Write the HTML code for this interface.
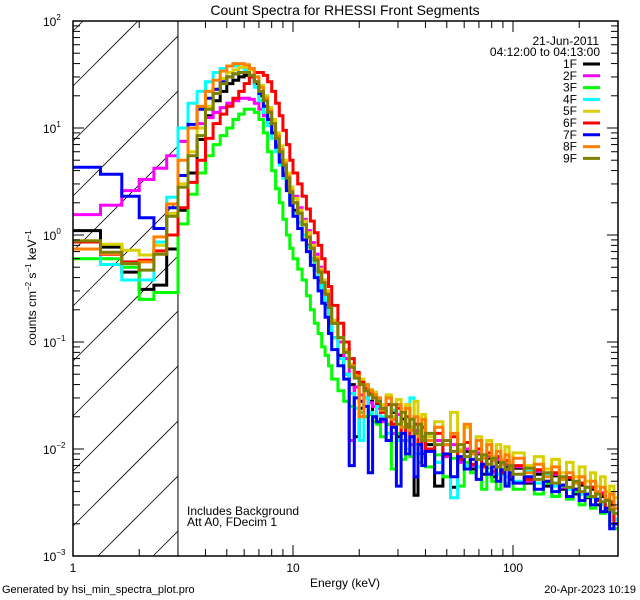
<!DOCTYPE html>
<html><head><meta charset="utf-8"><style>
html,body{margin:0;padding:0;background:#fff;width:640px;height:600px;overflow:hidden;}
svg{display:block;font-family:"Liberation Sans",sans-serif;}
</style></head><body>
<svg id="chart" width="640" height="600" viewBox="0 0 640 600" xmlns="http://www.w3.org/2000/svg">
<rect width="640" height="600" fill="#fff"/>
<text x="345" y="15" font-size="14" text-anchor="middle">Count Spectra for RHESSI Front Segments</text>
<defs><clipPath id="plotclip"><rect x="73" y="21" width="545" height="535"/></clipPath></defs>
<g id="hatch"></g>
<g id="series" clip-path="url(#plotclip)"></g>
<g id="axes"></g>
<g id="legend"></g>
<text x="187" y="515" font-size="12">Includes Background</text>
<text x="187" y="526" font-size="12">Att A0, FDecim 1</text>
<text x="345" y="587" font-size="12" text-anchor="middle">Energy (keV)</text>
<text transform="translate(36,288) rotate(-90)" font-size="12" text-anchor="middle">counts cm<tspan font-size="8" dy="-5">−2</tspan><tspan dy="5"> s</tspan><tspan font-size="8" dy="-5">−1</tspan><tspan dy="5"> keV</tspan><tspan font-size="8" dy="-5">−1</tspan></text>
<text x="2" y="593" font-size="11">Generated by hsi_min_spectra_plot.pro</text>
<text x="636" y="593" font-size="11" text-anchor="end">20-Apr-2023 10:19</text>
</svg>
<script>
const edges=[1,1.333,1.667,2,2.333,2.667,3,3.333,3.667,4,4.333,4.667,5,5.333,5.667,6,6.333,6.667,7,7.333,7.667,8,8.333,8.667,9,9.333,9.667,10,10.5,11,11.5,12,12.5,13,13.5,14,14.5,15,16,17,18,19,20,21,22,23,24,25,26.5,28,29.5,31,32.5,34,35.5,37,38.5,40,44,48,52,56,60,64,68,72,76,80,84,88,92,96,100,112.5,125,137.5,150,162.5,175,187.5,200,212.5,225,237.5,250,262.5,275,287.5,300];
const segNames=["1F","2F","3F","4F","5F","6F","7F","8F","9F"];
const segColors=["#000000","#ff00ff","#00ff00","#00ffff","#d8d000","#ff0000","#0000ff","#ff8000","#808000"];
const s1F=[1.1,0.77,0.45,0.31,0.34,0.74,1.7,3.8,7.8,13,18,22,26,28,30,31,30,26,20,16,12,9,7,5,3.8,2.8,2.1,1.7,1.3,1.0,0.8,0.6,0.47,0.37,0.29,0.22,0.16,0.11,0.075,0.05,0.04,0.013,0.024,0.03,0.028,0.02,0.026,0.024,0.017,0.022,0.013,0.019,0.012,0.016,0.0037,0.014,0.009,0.011,0.0045,0.012,0.0044,0.008,0.0095,0.0065,0.009,0.0058,0.0082,0.0055,0.0075,0.0062,0.0068,0.0052,0.0066,0.0048,0.0058,0.0045,0.0056,0.0042,0.0052,0.0038,0.0046,0.0035,0.0042,0.003,0.0036,0.0026,0.003,0.0022];
const s2F=[1.55,1.9,2.6,3.3,4.2,5.5,7.5,10,11,12.5,14,15.5,17,18,19,19,18.5,17,15,13,11,9,7.3,5.7,4.5,3.6,2.8,2.3,1.8,1.4,1.1,0.85,0.66,0.5,0.38,0.3,0.22,0.15,0.1,0.07,0.012,0.038,0.032,0.03,0.027,0.025,0.024,0.018,0.026,0.014,0.021,0.012,0.017,0.011,0.015,0.009,0.013,0.0095,0.012,0.0085,0.011,0.0075,0.01,0.007,0.0092,0.0068,0.0085,0.006,0.008,0.0062,0.0072,0.0058,0.0068,0.005,0.0062,0.0048,0.0058,0.0044,0.0054,0.004,0.0048,0.0037,0.0044,0.0033,0.0039,0.0028,0.0032,0.0022];
const s3F=[0.6,0.6,0.5,0.25,0.29,0.29,1.27,2.4,3.8,5.5,7,8.5,10,12,13.5,15,15,14,12,9,6,4,2.7,2,1.4,1.0,0.75,0.6,0.48,0.38,0.27,0.2,0.15,0.12,0.09,0.075,0.06,0.045,0.035,0.028,0.025,0.024,0.022,0.02,0.021,0.018,0.017,0.013,0.017,0.0065,0.014,0.008,0.012,0.0085,0.011,0.0075,0.0095,0.0068,0.0088,0.0055,0.0082,0.0045,0.0075,0.006,0.0068,0.0042,0.0066,0.005,0.0042,0.0058,0.0048,0.0055,0.0042,0.0052,0.0038,0.0048,0.0036,0.0045,0.0034,0.004,0.003,0.0036,0.0028,0.0033,0.0025,0.0028,0.002,0.0018];
const s4F=[0.74,0.53,0.38,0.38,0.86,2.25,10,17,22,27,33,36,38,38,37,35,30,24,18,14,10.5,8,6,4.5,3.4,2.6,2.0,1.6,1.3,1.0,0.78,0.6,0.47,0.36,0.28,0.21,0.16,0.11,0.07,0.05,0.033,0.024,0.012,0.03,0.022,0.02,0.025,0.02,0.014,0.023,0.012,0.018,0.01,0.03,0.009,0.015,0.0085,0.013,0.0075,0.011,0.0035,0.01,0.007,0.0095,0.0068,0.0088,0.006,0.0082,0.0058,0.0076,0.0055,0.0068,0.005,0.0062,0.0048,0.0058,0.0045,0.0052,0.0042,0.0048,0.0038,0.0044,0.0035,0.004,0.003,0.0034,0.0026,0.0022];
const s5F=[0.88,0.82,0.72,0.65,0.8,1.6,3,6,10,16,23,29,33,35,37,37,35,30,25,20,15.5,12,9,6.8,5,3.8,2.8,2.2,1.7,1.35,1.05,0.8,0.62,0.48,0.38,0.3,0.22,0.16,0.11,0.085,0.062,0.05,0.045,0.04,0.036,0.034,0.03,0.026,0.032,0.02,0.029,0.018,0.026,0.016,0.028,0.014,0.021,0.013,0.018,0.012,0.022,0.01,0.016,0.0095,0.013,0.0088,0.012,0.0085,0.011,0.008,0.0105,0.0075,0.0092,0.007,0.0085,0.0065,0.008,0.006,0.0075,0.0055,0.0068,0.005,0.006,0.0045,0.0055,0.004,0.0045,0.0035];
const s6F=[0.86,0.66,0.56,0.58,0.71,1.0,1.8,3.1,5,8,11,13.5,16,19,22,26,30,33,33,31,27,22,17,13,9.5,7,5,3.8,3.0,2.3,1.75,1.35,1.05,0.8,0.6,0.45,0.33,0.22,0.15,0.1,0.07,0.052,0.042,0.037,0.033,0.03,0.027,0.022,0.026,0.017,0.024,0.014,0.02,0.013,0.017,0.011,0.016,0.01,0.014,0.0088,0.013,0.008,0.0115,0.0072,0.01,0.0068,0.0092,0.0062,0.0085,0.006,0.0078,0.0056,0.007,0.0052,0.0064,0.005,0.006,0.0046,0.0054,0.0042,0.0048,0.0038,0.0044,0.0033,0.0038,0.0028,0.0032,0.002];
const s7F=[4.3,3.7,2.3,1.45,1.15,1.8,3.6,10.8,15,19,23,27,30,32,33,33,31,27,21,16,12,9,6.6,4.8,3.6,2.6,1.9,1.5,1.15,0.9,0.7,0.52,0.4,0.3,0.23,0.17,0.12,0.085,0.06,0.045,0.007,0.03,0.028,0.025,0.006,0.02,0.018,0.019,0.012,0.016,0.0045,0.014,0.009,0.013,0.0055,0.011,0.007,0.0095,0.006,0.009,0.0055,0.0085,0.0065,0.008,0.0052,0.0072,0.0058,0.0068,0.005,0.0064,0.0045,0.006,0.0048,0.0055,0.0042,0.005,0.004,0.0046,0.0036,0.0042,0.0033,0.0038,0.003,0.0034,0.0026,0.0028,0.0018,0.002];
const s8F=[0.74,0.67,0.54,0.56,0.96,1.95,5,10,16,22,28,34,38,40,40,39,36,30,24,19,14.5,11,8.5,6.3,4.7,3.5,2.6,2.0,1.6,1.25,0.97,0.76,0.6,0.46,0.36,0.28,0.21,0.15,0.11,0.08,0.06,0.048,0.02,0.04,0.035,0.032,0.03,0.023,0.03,0.019,0.026,0.016,0.024,0.015,0.02,0.013,0.019,0.012,0.016,0.011,0.014,0.0095,0.017,0.009,0.012,0.0082,0.011,0.0078,0.0095,0.0072,0.0088,0.0065,0.0082,0.006,0.0072,0.0055,0.0068,0.0052,0.006,0.0048,0.0055,0.0044,0.005,0.004,0.0044,0.0034,0.0038,0.0028];
const s9F=[0.88,0.69,0.54,0.47,0.66,1.5,2.8,5.5,8.5,15,21,26,30,32,33,33,31,27,22,18,14,11,8,6,4.5,3.4,2.5,2.0,1.6,1.25,0.95,0.75,0.58,0.45,0.36,0.28,0.21,0.15,0.11,0.08,0.058,0.046,0.04,0.035,0.032,0.03,0.028,0.024,0.02,0.026,0.017,0.022,0.016,0.019,0.014,0.017,0.012,0.014,0.011,0.012,0.0095,0.011,0.0085,0.0095,0.008,0.0088,0.0072,0.0082,0.0068,0.0075,0.0064,0.007,0.0058,0.0066,0.0052,0.006,0.0048,0.0055,0.0044,0.005,0.004,0.0044,0.0036,0.0038,0.0032,0.0033,0.0027,0.0025];
const allSeries=[s1F,s2F,s3F,s4F,s5F,s6F,s7F,s8F,s9F];
const yTickExp=[-3,-2,-1,0,1,2];
const xTickLabels=[1,10,100];

const X0=73,X1=618,Y0=556,Y1=21,XDEC=220,YDEC=107;
function xs(e){return X0+XDEC*Math.log10(e);}
function ys(v){return Y0-YDEC*(Math.log10(v)+3);}
const NS="http://www.w3.org/2000/svg";
function mk(tag,attrs,parent){const el=document.createElementNS(NS,tag);for(const k in attrs)el.setAttribute(k,attrs[k]);parent.appendChild(el);return el;}

const hatch=document.getElementById('hatch');
const xv=xs(3);
for(let k=-6;k<12;k++){
  const yStart=86+55*k;
  const xa=X0+Math.max(0,yStart-Y0);
  const xb=X0+Math.min(xv-X0,yStart-Y1);
  if(xb<=xa)continue;
  const ln=mk('line',{x1:xa,y1:yStart-(xa-X0),x2:xb,y2:yStart-(xb-X0),stroke:'#000','stroke-width':0.8},hatch);
  
  
}
const vl=mk('line',{x1:xv,y1:Y1,x2:xv,y2:Y0,stroke:'#000','stroke-width':1},hatch);



const sg=document.getElementById('series');
allSeries.forEach((vals,i)=>{
  let d='';
  for(let j=0;j<vals.length&&j<edges.length-1;j++){
    const xa=xs(edges[j]),xb=xs(edges[j+1]),y=ys(vals[j]);
    d+=(j===0?'M':'L')+xa.toFixed(1)+','+y.toFixed(1)+'L'+xb.toFixed(1)+','+y.toFixed(1);
  }
  const p=mk('path',{d:d,fill:'none',stroke:segColors[i],'stroke-width':3,'stroke-linejoin':'miter'},sg);
  
  
});

const ax=document.getElementById('axes');
const frame=mk('rect',{x:X0,y:Y1,width:X1-X0,height:Y0-Y1,fill:'none',stroke:'#000','stroke-width':1.5},ax);


for(let dec=0;dec<3;dec++){
  for(let m=1;m<10;m++){
    const e=Math.pow(10,dec)*m; if(e>300)break;
    const x=xs(e); const len=m===1?11:7;
    if(m===1&&dec===0)continue;
    const t1=mk('line',{x1:x,y1:Y0,x2:x,y2:Y0-len,stroke:'#000','stroke-width':1},ax);
    
    
    const t2=mk('line',{x1:x,y1:Y1,x2:x,y2:Y1+len,stroke:'#000','stroke-width':1},ax);
    
    
  }
}
xTickLabels.forEach(v=>{
  const t=mk('text',{x:xs(v),y:572,'font-size':12,'text-anchor':'middle'},ax);
  t.textContent=String(v);
  
  
});
yTickExp.forEach(ex=>{
  for(let m=1;m<10;m++){
    if(ex===2&&m>1)break;
    const y=ys(m*Math.pow(10,ex)); const len=m===1?11:7;
    const a=mk('line',{x1:X0,y1:y,x2:X0+len,y2:y,stroke:'#000','stroke-width':1},ax);
    
    
    const b=mk('line',{x1:X1,y1:y,x2:X1-len,y2:y,stroke:'#000','stroke-width':1},ax);
    
    
  }
  const t=mk('text',{x:43,y:ys(Math.pow(10,ex))+5,'font-size':12},ax);
  
  
  t.textContent='10';
  const s=mk('tspan',{'font-size':8,dy:-6},t);
  s.textContent=String(ex).replace('-','−');
});

const lg=document.getElementById('legend');
const d1=mk('text',{x:599,y:45,'font-size':12,'text-anchor':'end'},lg);
d1.textContent='21-Jun-2011';


const d2=mk('text',{x:600,y:56,'font-size':12,'text-anchor':'end'},lg);
d2.textContent='04:12:00 to 04:13:00';


segNames.forEach((n,i)=>{
  const y=64+11.8*i;
  const t=mk('text',{x:577,y:y+4,'font-size':12,'text-anchor':'end'},lg);
  t.textContent=n;
  
  
  const l=mk('line',{x1:583,y1:y,x2:600,y2:y,stroke:segColors[i],'stroke-width':3},lg);
  
  
});
</script>
</body></html>
